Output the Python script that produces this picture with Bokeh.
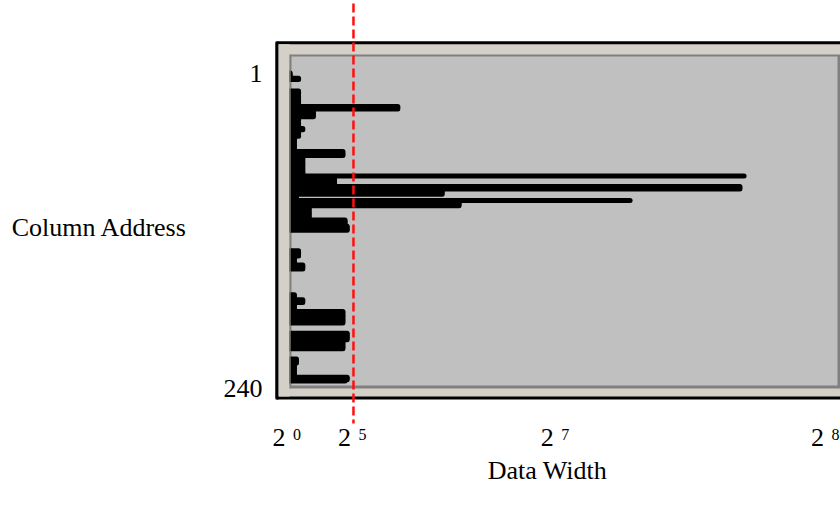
from bokeh.plotting import figure
from bokeh.models import Range1d, BoxAnnotation, Label, Arrow, ColumnDataSource
from bokeh.embed import file_html
from bokeh.resources import INLINE

# ---------------- data ----------------
rows = list(range(1, 241))  # column address 1..240
widths = [
    2, 2, 2, 2, 6, 6, 0, 0, 0, 0, 0, 0, 0, 0, 6, 6, 6, 6, 6, 6,
    6, 6, 6, 6, 6, 6, 53, 53, 53, 13, 13, 13, 13, 13, 13, 6, 6, 6, 6, 6,
    6, 6, 6, 8, 8, 6, 6, 6, 6, 6, 4, 4, 4, 4, 4, 4, 4, 4, 4, 4,
    4, 27, 27, 27, 27, 8, 8, 8, 8, 8, 8, 8, 8, 8, 8, 8, 8, 8, 8, 8,
    217, 23, 23, 23, 23, 23, 23, 23, 215, 215, 215, 74, 74, 74, 74, 5, 5, 5, 5, 163,
    82, 82, 82, 82, 11, 11, 11, 11, 11, 11, 11, 11, 11, 11, 28, 28, 28, 28, 28, 29,
    29, 29, 29, 0, 0, 0, 0, 0, 0, 0, 0, 0, 0, 0, 0, 0, 0, 0, 6, 6,
    6, 6, 6, 4, 4, 4, 4, 4, 4, 8, 8, 8, 8, 0, 0, 0, 0, 0, 0, 0,
    0, 0, 0, 0, 0, 0, 0, 0, 0, 0, 0, 0, 4, 4, 4, 4, 8, 8, 8, 4,
    4, 4, 4, 4, 4, 27, 27, 27, 27, 27, 27, 27, 27, 27, 27, 0, 0, 0, 0, 0,
    0, 0, 29, 29, 29, 29, 29, 29, 27, 27, 27, 27, 27, 27, 27, 0, 0, 0, 0, 0,
    0, 0, 5, 5, 5, 5, 4, 4, 4, 4, 4, 4, 4, 4, 4, 4, 29, 29, 29, 28,
]
x_ticks = [1, 32, 128, 256]
x_tick_base = "2"
x_tick_exponents = ["0", "5", "7", "8"]
y_ticks = [1, 240]
y_tick_labels = ["1", "240"]
threshold = 32
x_title = "Data Width"
y_title = "Column Address"

# ---------------- layout ----------------
W, H = 840, 510
X0, X1 = -135.16, 262.65        # data x at canvas left / right edge
Y_TOP, Y_BOT = -55.26, 340.49    # data row at canvas top / bottom edge
FONT = "Liberation Serif"
FS = "26px"
FS_SUP = "16px"
BEIGE, DARK, LIGHT = "#d4d0c8", "#808080", "#c0c0c0"


def xd(px):
    return X0 + px * (X1 - X0) / W


def yd(py):
    return Y_TOP + py * (Y_BOT - Y_TOP) / H


def box(l, r, t, b, fill, level="underlay", **kw):
    kw.setdefault("line_color", None)
    p.add_layout(BoxAnnotation(left=xd(l), right=xd(r), top=yd(t), bottom=yd(b),
                               fill_color=fill, fill_alpha=1, line_alpha=1,
                               level=level, **kw))


def text(x, y, t, size=FS, align="center", **kw):
    p.add_layout(Label(x=x, y=y, text=t, text_align=align, text_baseline="middle",
                       text_font=FONT, text_font_size=size, text_color="black", **kw))


p = figure(width=W, height=H, x_range=Range1d(X0, X1), y_range=Range1d(Y_BOT, Y_TOP),
           output_backend="svg", toolbar_location=None,
           x_axis_location=None, y_axis_location=None,
           min_border_left=0, min_border_right=0, min_border_top=0, min_border_bottom=0)
p.grid.visible = False
p.outline_line_color = None
p.background_fill_color = "white"
p.border_fill_color = "white"

# frame decorations (3D style box)
box(276.5, 880, 42.3, 397.5, BEIGE, line_color="black", line_width=3)
box(289, 880, 54, 388, DARK)
box(291, 837, 56, 385, LIGHT)

# bars
src = ColumnDataSource(dict(row=rows, width=widths))
p.segment(x0=0, y0="row", x1="width", y1="row", source=src, line_color="black",
          line_width=5, line_cap="round")

# left edge of the box drawn above the bars
box(275, 278, 41, 399, "black", level="overlay")
box(278, 289, 43.8, 396, BEIGE, level="overlay")
box(289, 290.2, 54, 388, DARK, level="overlay")

# threshold line
p.add_layout(Arrow(end=None, x_start=threshold, x_end=threshold, y_start=yd(-10), y_end=yd(423),
                   line_color="#ff1010", line_width=2.5, line_dash="9 4"))

# tick labels and titles
text(xd(262), y_ticks[0], y_tick_labels[0], align="right")
text(xd(262), y_ticks[1], y_tick_labels[1], align="right", y_offset=-8)
for v, e in zip(x_ticks, x_tick_exponents):
    text(v, yd(437), x_tick_base, x_offset=-9)
    text(v, yd(433.5), e, size=FS_SUP, x_offset=9)
text(xd(547), yd(470), x_title)
text(xd(99), yd(227), y_title)

open("out.html", "w").write(file_html(p, INLINE))
